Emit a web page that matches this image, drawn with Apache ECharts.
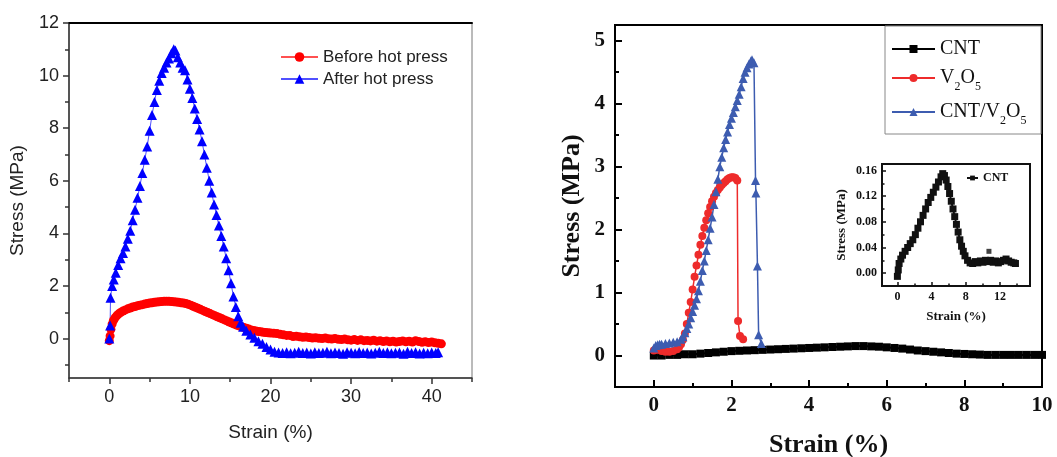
<!DOCTYPE html>
<html>
<head>
<meta charset="utf-8">
<script src="https://cdn.jsdelivr.net/npm/echarts@6/dist/echarts.min.js"></script>
<style>
html,body{margin:0;padding:0;background:#fff;}
#chart{width:1057px;height:457px;}
</style>
</head>
<body>
<div id="chart"></div>
<script>
// ---- Left panel data: [strain %, stress MPa] ----
const beforeHotPress = [[0,-0.08],[0.1,0.1],[0.2,0.35],[0.35,0.55],[0.5,0.68],[0.7,0.78],[0.9,0.86],[1.1,0.92],[1.4,0.99],[1.7,1.05],[2.0,1.09],[2.3,1.13],[2.6,1.16],[2.9,1.2],[3.2,1.22],[3.5,1.25],[3.8,1.27],[4.1,1.29],[4.4,1.31],[4.7,1.33],[5.0,1.35],[5.3,1.36],[5.6,1.38],[5.9,1.39],[6.2,1.4],[6.5,1.41],[6.8,1.42],[7.1,1.42],[7.4,1.42],[7.7,1.41],[8.0,1.4],[8.3,1.39],[8.6,1.38],[8.9,1.36],[9.2,1.35],[9.5,1.33],[9.8,1.3],[10.1,1.27],[10.4,1.23],[10.7,1.19],[11.0,1.15],[11.3,1.11],[11.6,1.07],[11.9,1.03],[12.2,0.99],[12.5,0.95],[12.8,0.91],[13.1,0.87],[13.4,0.83],[13.7,0.79],[14.0,0.75],[14.3,0.71],[14.6,0.67],[14.9,0.63],[15.2,0.59],[15.5,0.55],[15.8,0.51],[16.1,0.48],[16.4,0.45],[16.7,0.42],[17.0,0.39],[17.3,0.36],[17.6,0.33],[17.9,0.31],[18.2,0.29],[18.5,0.27],[18.8,0.26],[19.1,0.24],[19.4,0.23],[19.7,0.22],[20.0,0.21],[20.4,0.2],[20.8,0.19],[21.2,0.16],[21.6,0.14],[22.0,0.12],[22.4,0.12],[22.8,0.08],[23.2,0.09],[23.6,0.07],[24.0,0.05],[24.4,0.06],[24.8,0.04],[25.2,0.02],[25.6,0.03],[26.0,0.01],[26.4,0.0],[26.8,0.02],[27.2,-0.01],[27.6,-0.02],[28.0,0.0],[28.4,-0.03],[28.8,-0.04],[29.2,-0.02],[29.6,-0.05],[30.0,-0.06],[30.4,-0.04],[30.8,-0.07],[31.2,-0.05],[31.6,-0.08],[32.0,-0.07],[32.4,-0.09],[32.8,-0.06],[33.2,-0.1],[33.6,-0.08],[34.0,-0.11],[34.4,-0.09],[34.8,-0.12],[35.2,-0.1],[35.6,-0.13],[36.0,-0.11],[36.4,-0.09],[36.8,-0.12],[37.2,-0.1],[37.6,-0.13],[38.0,-0.08],[38.4,-0.11],[38.8,-0.14],[39.2,-0.12],[39.6,-0.15],[40.0,-0.13],[40.4,-0.16],[40.8,-0.18],[41.2,-0.2]];

const afterHotPress = [[0,0],[0.1,0.5],[0.15,1.55],[0.35,2.0],[0.55,2.25],[0.8,2.5],[1.1,2.8],[1.4,3.05],[1.7,3.25],[2.0,3.5],[2.3,3.8],[2.6,4.1],[2.9,4.5],[3.2,4.9],[3.5,5.35],[3.8,5.8],[4.1,6.3],[4.4,6.8],[4.7,7.3],[5.0,7.9],[5.3,8.5],[5.6,9.0],[5.9,9.45],[6.2,9.8],[6.5,10.1],[6.8,10.3],[7.1,10.5],[7.4,10.65],[7.7,10.85],[8.0,11.0],[8.2,10.95],[8.5,10.7],[8.8,10.5],[9.1,10.3],[9.4,10.2],[9.7,9.85],[10.0,9.5],[10.3,9.15],[10.6,8.75],[10.9,8.35],[11.2,7.95],[11.5,7.5],[11.8,7.0],[12.1,6.5],[12.4,6.0],[12.7,5.55],[13.0,5.1],[13.3,4.7],[13.6,4.3],[13.9,3.9],[14.2,3.5],[14.5,3.05],[14.8,2.6],[15.1,2.1],[15.4,1.6],[15.7,1.2],[16.0,0.85],[16.3,0.6],[16.6,0.45],[17.0,0.3],[17.5,0.15],[18.0,0.03],[18.5,-0.1],[19.0,-0.2],[19.5,-0.32],[20.0,-0.42],[20.5,-0.5],[21.0,-0.53],[21.5,-0.55],[22.0,-0.52],[22.5,-0.56],[23.0,-0.54],[23.5,-0.5],[24.0,-0.55],[24.5,-0.53],[25.0,-0.57],[25.5,-0.52],[26.0,-0.55],[26.5,-0.54],[27.0,-0.5],[27.5,-0.56],[28.0,-0.53],[28.5,-0.55],[29.0,-0.58],[29.5,-0.52],[30.0,-0.54],[30.5,-0.56],[31.0,-0.51],[31.5,-0.55],[32.0,-0.53],[32.5,-0.57],[33.0,-0.54],[33.5,-0.5],[34.0,-0.55],[34.5,-0.52],[35.0,-0.56],[35.5,-0.54],[36.0,-0.53],[36.5,-0.58],[37.0,-0.5],[37.5,-0.55],[38.0,-0.52],[38.5,-0.57],[39.0,-0.54],[39.5,-0.56],[40.0,-0.53],[40.5,-0.55],[40.8,-0.52]];

// ---- Right panel data ----
const cntMain = [[0,0.0],[0.2,0.0],[0.4,0.01],[0.6,0.01],[0.8,0.02],[1.0,0.02],[1.2,0.03],[1.4,0.04],[1.6,0.05],[1.8,0.06],[2.0,0.07],[2.2,0.075],[2.4,0.08],[2.6,0.085],[2.8,0.09],[3.0,0.095],[3.2,0.1],[3.4,0.105],[3.6,0.11],[3.8,0.115],[4.0,0.12],[4.2,0.125],[4.4,0.13],[4.6,0.135],[4.8,0.14],[5.0,0.145],[5.2,0.15],[5.4,0.15],[5.6,0.145],[5.8,0.14],[6.0,0.13],[6.2,0.12],[6.4,0.11],[6.6,0.095],[6.8,0.08],[7.0,0.07],[7.2,0.06],[7.4,0.05],[7.6,0.04],[7.8,0.03],[8.0,0.025],[8.2,0.02],[8.4,0.015],[8.6,0.01],[8.8,0.01],[9.0,0.01],[9.2,0.01],[9.4,0.01],[9.6,0.01],[9.8,0.01],[10.0,0.01]];

const v2o5 = [[0,0.08],[0.05,0.1],[0.1,0.09],[0.2,0.07],[0.3,0.06],[0.4,0.06],[0.5,0.07],[0.6,0.1],[0.65,0.13],[0.7,0.18],[0.75,0.25],[0.8,0.35],[0.85,0.5],[0.9,0.68],[0.95,0.85],[1.0,1.05],[1.05,1.25],[1.1,1.43],[1.15,1.6],[1.2,1.76],[1.25,1.9],[1.3,2.03],[1.35,2.15],[1.4,2.26],[1.45,2.36],[1.5,2.45],[1.55,2.52],[1.6,2.58],[1.65,2.63],[1.7,2.67],[1.75,2.71],[1.8,2.74],[1.85,2.77],[1.9,2.8],[1.95,2.82],[2.0,2.83],[2.05,2.83],[2.1,2.82],[2.15,2.78],[2.17,0.55],[2.22,0.31],[2.3,0.26]];

const cntV2o5 = [[0,0.12],[0.05,0.16],[0.1,0.17],[0.15,0.18],[0.2,0.18],[0.3,0.19],[0.4,0.2],[0.5,0.21],[0.6,0.22],[0.7,0.26],[0.75,0.3],[0.8,0.36],[0.85,0.43],[0.9,0.5],[0.95,0.6],[1.0,0.7],[1.05,0.8],[1.1,0.9],[1.15,1.03],[1.2,1.18],[1.25,1.35],[1.3,1.5],[1.35,1.67],[1.4,1.84],[1.45,2.02],[1.5,2.2],[1.55,2.4],[1.6,2.6],[1.65,2.8],[1.7,3.0],[1.75,3.15],[1.8,3.3],[1.85,3.43],[1.9,3.55],[1.95,3.67],[2.0,3.77],[2.05,3.86],[2.1,3.95],[2.15,4.05],[2.2,4.15],[2.25,4.27],[2.3,4.4],[2.35,4.5],[2.4,4.57],[2.45,4.63],[2.5,4.68],[2.53,4.7],[2.58,4.65],[2.62,2.78],[2.63,2.58],[2.67,1.42],[2.7,0.33],[2.77,0.19]];

// ---- Inset data ----
const cntInset = [[0,-0.005],[0.1,0.005],[0.2,0.015],[0.4,0.022],[0.6,0.028],[0.9,0.034],[1.2,0.04],[1.5,0.046],[1.8,0.052],[2.1,0.06],[2.4,0.07],[2.7,0.08],[3.0,0.09],[3.3,0.1],[3.6,0.11],[3.9,0.118],[4.2,0.126],[4.5,0.134],[4.8,0.142],[5.1,0.15],[5.3,0.155],[5.5,0.152],[5.7,0.145],[5.9,0.135],[6.1,0.124],[6.3,0.112],[6.5,0.1],[6.7,0.088],[6.9,0.076],[7.1,0.064],[7.3,0.052],[7.5,0.042],[7.7,0.034],[7.9,0.027],[8.2,0.02],[8.5,0.016],[8.8,0.015],[9.1,0.018],[9.4,0.016],[9.7,0.019],[10.0,0.017],[10.3,0.02],[10.6,0.018],[10.9,0.02],[11.2,0.017],[11.5,0.019],[11.8,0.016],[12.1,0.018],[12.4,0.02],[12.7,0.022],[13.0,0.019],[13.3,0.017],[13.6,0.016],[13.8,0.015]];
const cntInsetOutlier = [[10.7,0.034]];

// ---- Tick values ----
const leftXTicks = [0,10,20,30,40];
const leftXMinor = [-5,5,15,25,35,45];
const leftYTicks = [0,2,4,6,8,10,12];
const leftYMinor = [-1,1,3,5,7,9,11];
const rightXTicks = [0,2,4,6,8,10];
const rightXMinor = [1,3,5,7,9];
const rightYTicks = [0,1,2,3,4,5];
const rightYMinor = [0.5,1.5,2.5,3.5,4.5];
const insetXTicks = [0,4,8,12];
const insetXMinor = [2,6,10,14];
const insetYTicks = [0,0.04,0.08,0.12,0.16];
const insetYMinor = [0.02,0.06,0.1,0.14];

const SANS = 'Liberation Sans';
const SERIF = 'Liberation Serif';

function majorAxis(o) {
  const a = Object.assign({type: 'value', splitLine: {show: false}}, o);
  a.axisLine = Object.assign({onZero: false}, o.axisLine || {});
  return a;
}
function minorAxis(grid, pos, min, max, vals, len, inside, color, w) {
  return {
    type: 'value', gridIndex: grid, position: pos, min: min, max: max,
    axisLine: {show: false, onZero: false}, axisLabel: {show: false}, splitLine: {show: false},
    axisTick: {show: true, inside: inside, length: len, customValues: vals, lineStyle: {color: color, width: w}}
  };
}

const chart = echarts.init(document.getElementById('chart'), null, {renderer: 'canvas'});
const option = {
  animation: false,
  backgroundColor: '#fff',
  grid: [
    {left: 69, top: 23, right: 585, bottom: 79, outerBoundsMode: 'none', show: true, borderColor: '#777', borderWidth: 1, backgroundColor: 'transparent'},
    {left: 615, top: 25, right: 15, bottom: 70, outerBoundsMode: 'none', show: true, borderColor: '#000', borderWidth: 2, backgroundColor: 'transparent'},
    {left: 882, top: 164, right: 27, bottom: 171, outerBoundsMode: 'none', show: true, borderColor: '#111', borderWidth: 2, backgroundColor: '#fff'}
  ],
  xAxis: [
    majorAxis({gridIndex: 0, position: 'bottom', min: -5, max: 45,
      axisLine: {lineStyle: {color: '#333', width: 1.5}},
      axisTick: {inside: false, length: 6, customValues: leftXTicks, lineStyle: {color: '#333', width: 1.5}},
      axisLabel: {customValues: leftXTicks, fontFamily: SANS, fontSize: 18, color: '#222', margin: 10},
      name: 'Strain (%)', nameLocation: 'middle', nameGap: 45,
      nameTextStyle: {fontFamily: SANS, fontSize: 19, color: '#222'}}),
    minorAxis(0, 'bottom', -5, 45, leftXMinor, 4, false, '#333', 1.5),
    majorAxis({gridIndex: 0, position: 'top', min: -5, max: 45,
      axisLine: {lineStyle: {color: '#000', width: 2}}, axisTick: {show: false}, axisLabel: {show: false}}),
    majorAxis({gridIndex: 1, position: 'bottom', min: -1, max: 10,
      axisLine: {lineStyle: {color: '#000', width: 2}},
      axisTick: {inside: true, length: 7, customValues: rightXTicks, lineStyle: {color: '#000', width: 2}},
      axisLabel: {customValues: rightXTicks, fontFamily: SERIF, fontWeight: 'bold', fontSize: 21, color: '#111', margin: 8},
      name: 'Strain (%)', nameLocation: 'middle', nameGap: 45,
      nameTextStyle: {fontFamily: SERIF, fontWeight: 'bold', fontSize: 26, color: '#111'}}),
    minorAxis(1, 'bottom', -1, 10, rightXMinor, 4, true, '#000', 2),
    majorAxis({gridIndex: 2, position: 'bottom', min: -1.8, max: 15.5,
      axisLine: {lineStyle: {color: '#111', width: 2}},
      axisTick: {inside: true, length: 4, customValues: insetXTicks, lineStyle: {color: '#111', width: 1.5}},
      axisLabel: {customValues: insetXTicks, fontFamily: SERIF, fontWeight: 'bold', fontSize: 12, color: '#111', margin: 5},
      name: 'Strain (%)', nameLocation: 'middle', nameGap: 24,
      nameTextStyle: {fontFamily: SERIF, fontWeight: 'bold', fontSize: 13, color: '#111'}}),
    minorAxis(2, 'bottom', -1.8, 15.5, insetXMinor, 2.5, true, '#111', 1.5)
  ],
  yAxis: [
    majorAxis({gridIndex: 0, position: 'left', min: -1.5, max: 12,
      axisLine: {lineStyle: {color: '#333', width: 1.5}},
      axisTick: {inside: false, length: 6, customValues: leftYTicks, lineStyle: {color: '#333', width: 1.5}},
      axisLabel: {customValues: leftYTicks, fontFamily: SANS, fontSize: 18, color: '#222', margin: 10},
      name: 'Stress (MPa)', nameLocation: 'middle', nameGap: 42,
      nameTextStyle: {fontFamily: SANS, fontSize: 19, color: '#222'}}),
    minorAxis(0, 'left', -1.5, 12, leftYMinor, 4, false, '#333', 1.5),
    majorAxis({gridIndex: 1, position: 'left', min: -0.5, max: 5.25,
      axisLine: {lineStyle: {color: '#000', width: 2}},
      axisTick: {inside: true, length: 7, customValues: rightYTicks, lineStyle: {color: '#000', width: 2}},
      axisLabel: {customValues: rightYTicks, fontFamily: SERIF, fontWeight: 'bold', fontSize: 21, color: '#111', margin: 10},
      name: 'Stress (MPa)', nameLocation: 'middle', nameGap: 30,
      nameTextStyle: {fontFamily: SERIF, fontWeight: 'bold', fontSize: 26, color: '#111'}}),
    minorAxis(1, 'left', -0.5, 5.25, rightYMinor, 4, true, '#000', 2),
    majorAxis({gridIndex: 2, position: 'left', min: -0.02, max: 0.17,
      axisLine: {lineStyle: {color: '#111', width: 2}},
      axisTick: {inside: true, length: 4, customValues: insetYTicks, lineStyle: {color: '#111', width: 1.5}},
      axisLabel: {customValues: insetYTicks, formatter: v => v.toFixed(2), fontFamily: SERIF, fontWeight: 'bold', fontSize: 12, color: '#111', margin: 5},
      name: 'Stress (MPa)', nameLocation: 'middle', nameGap: 34,
      nameTextStyle: {fontFamily: SERIF, fontWeight: 'bold', fontSize: 13, color: '#111'}}),
    minorAxis(2, 'left', -0.02, 0.17, insetYMinor, 2.5, true, '#111', 1.5)
  ],
  legend: [
    {data: ['Before hot press', 'After hot press'], orient: 'vertical', left: 280, top: 47,
      itemWidth: 37, itemHeight: 12, itemGap: 2, padding: 0,
      textStyle: {fontFamily: SANS, fontSize: 17, color: '#222', lineHeight: 20}},
    {data: ['CNT', 'V2O5', 'CNT/V2O5'], orient: 'vertical', left: 891, top: 39,
      itemWidth: 43, itemHeight: 10, itemGap: 9, padding: 0,
      formatter: function (n) {
        if (n === 'V2O5') return '{n|V}{s|2}{n|O}{s|5}';
        if (n === 'CNT/V2O5') return '{n|CNT/V}{s|2}{n|O}{s|5}';
        return '{n|' + n + '}';
      },
      textStyle: {rich: {
        n: {fontFamily: SERIF, fontSize: 20, color: '#111', lineHeight: 26, verticalAlign: 'middle'},
        s: {fontFamily: SERIF, fontSize: 12, color: '#111', lineHeight: 30, verticalAlign: 'bottom'}
      }}},
    {data: ['CNT inset'], orient: 'vertical', left: 966, top: 172, itemWidth: 11, itemHeight: 6, padding: 0,
      formatter: () => 'CNT',
      textStyle: {fontFamily: SERIF, fontWeight: 'bold', fontSize: 12, color: '#111'}}
  ],
  graphic: [
    {type: 'rect', shape: {x: 885, y: 26, width: 156, height: 108}, style: {fill: 'none', stroke: '#888', lineWidth: 1}, z: 10}
  ],
  series: [
    {name: 'Before hot press', type: 'line', xAxisIndex: 0, yAxisIndex: 0, data: beforeHotPress,
      symbol: 'circle', symbolSize: 9, showAllSymbol: true,
      itemStyle: {color: '#ff0000'}, lineStyle: {color: '#ff5050', width: 1}},
    {name: 'After hot press', type: 'line', xAxisIndex: 0, yAxisIndex: 0, data: afterHotPress,
      symbol: 'triangle', symbolSize: 10, showAllSymbol: true,
      itemStyle: {color: '#0000ff'}, lineStyle: {color: '#5050ff', width: 1}},
    {name: 'CNT', type: 'line', xAxisIndex: 3, yAxisIndex: 2, data: cntMain,
      symbol: 'rect', symbolSize: 8, showAllSymbol: true,
      itemStyle: {color: '#000'}, lineStyle: {color: '#000', width: 2}},
    {name: 'V2O5', type: 'line', xAxisIndex: 3, yAxisIndex: 2, data: v2o5,
      symbol: 'circle', symbolSize: 8, showAllSymbol: true,
      itemStyle: {color: '#ee2b2b'}, lineStyle: {color: '#ee2b2b', width: 1.5}},
    {name: 'CNT/V2O5', type: 'line', xAxisIndex: 3, yAxisIndex: 2, data: cntV2o5,
      symbol: 'triangle', symbolSize: 9, showAllSymbol: true,
      itemStyle: {color: '#3d5cb0'}, lineStyle: {color: '#3d5cb0', width: 1.5}},
    {name: 'CNT inset', type: 'line', xAxisIndex: 5, yAxisIndex: 4, data: cntInset,
      symbol: 'rect', symbolSize: 7, showAllSymbol: true, z: 5,
      itemStyle: {color: '#111'}, lineStyle: {color: '#111', width: 2}},
    {name: 'CNT inset outlier', type: 'scatter', xAxisIndex: 5, yAxisIndex: 4, data: cntInsetOutlier,
      symbol: 'rect', symbolSize: 5, z: 5, itemStyle: {color: '#111'}}
  ]
};
chart.setOption(option);
</script>
</body>
</html>
